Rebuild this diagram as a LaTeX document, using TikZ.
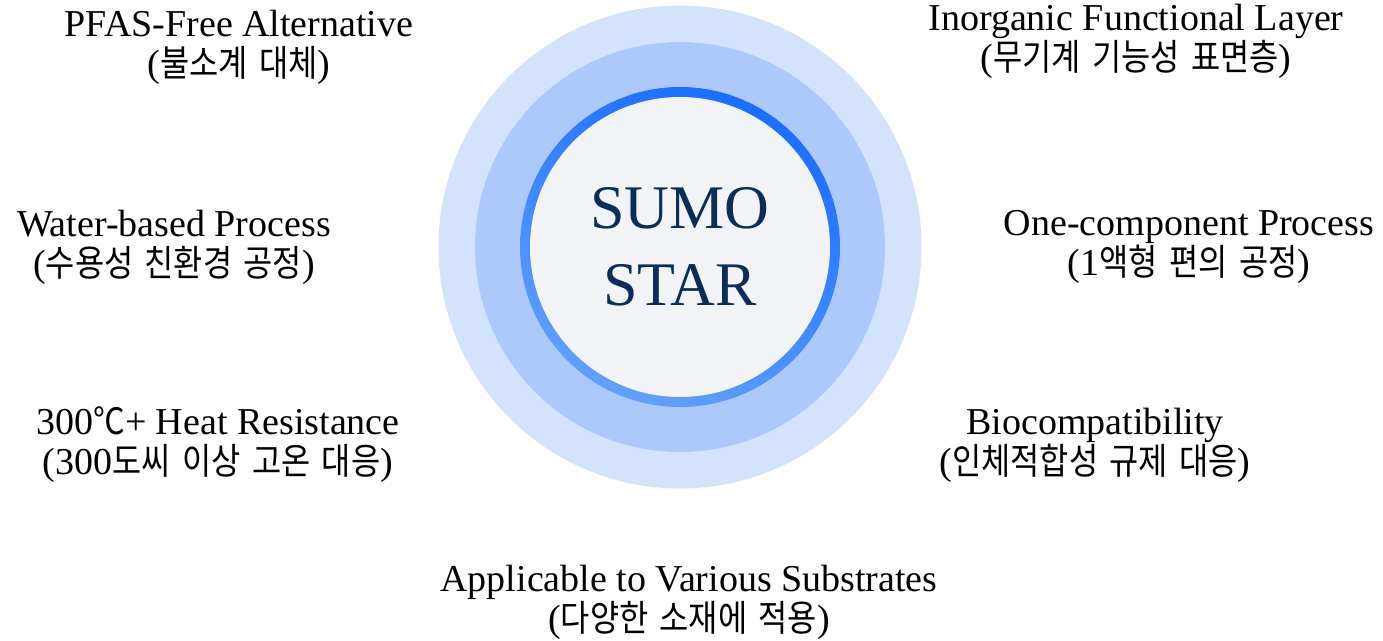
\documentclass[tikz,border=0pt]{standalone}
\usepackage{fontspec}
\setmainfont{Liberation Serif}
\newfontfamily\kr{Noto Sans CJK KR}[Scale=0.96,FakeStretch=0.87,WordSpace=1.6]
\usepackage{tikz}
\definecolor{haloout}{HTML}{D3E3FC}
\definecolor{haloin}{HTML}{ADC9FC}
\definecolor{ringtop}{HTML}{1A6DFF}
\definecolor{ringbot}{HTML}{62A0FA}
\definecolor{corefill}{HTML}{F1F3F6}
\definecolor{navy}{HTML}{0B2D57}
\tikzset{
  disc/.style={circle,inner sep=0pt,outer sep=0pt},
  featlabel/.style={align=center,inner sep=0pt,
                    font=\fontsize{38}{40}\selectfont},
}

\begin{document}
\begin{tikzpicture}[x=1pt,y=-1pt]
\useasboundingbox (0,0) rectangle (1383,640);

% rings round the core
\node[disc, fill=haloout, minimum size=483pt] (outer) at (680,247) {};
\node[disc, fill=haloin, minimum size=410pt] (middle) at (outer.center) {};
\node[disc, top color=ringtop, bottom color=ringbot, shading angle=-25,
      minimum size=320pt] (ring) at (outer.center) {};
\node[disc, fill=corefill, minimum size=300pt, align=center, text=navy,
      font=\fontsize{62}{77}\selectfont] (core) at (outer.center) {SUMO\\STAR};

% feature labels
\node[featlabel] (pfas) at (239,47) {PFAS-Free Alternative\\({\kr 불소계 대체})};
\node[featlabel] (inorg) at (1136,41) {Inorganic Functional Layer\\({\kr 무기계 기능성 표면층})};
\node[featlabel] (water) at (174,247) {Water-based Process\\({\kr 수용성 친환경 공정})};
\node[featlabel] (onecomp) at (1189,247) {One-component Process\\(1{\kr 액형 편의 공정})};
\node[featlabel] (heat) at (218,445) {300{\kr ℃}+ Heat Resistance\\(300{\kr 도씨 이상 고온 대응})};
\node[featlabel] (bio) at (1095,445) {Biocompatibility\\({\kr 인체적합성 규제 대응})};
\node[featlabel] (substr) at (689,602) {Applicable to Various Substrates\\({\kr 다양한 소재에 적용})};

\end{tikzpicture}
\end{document}
